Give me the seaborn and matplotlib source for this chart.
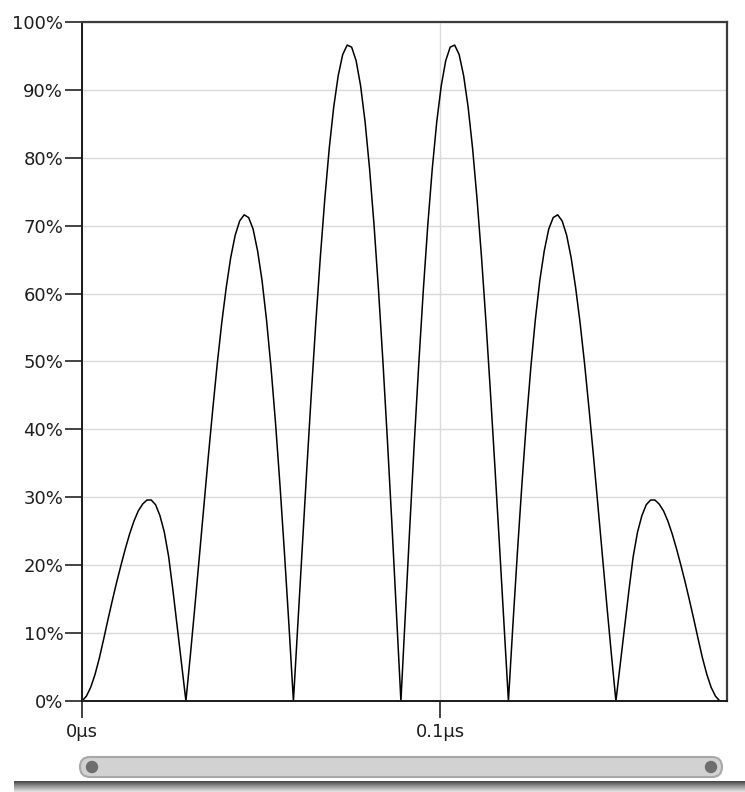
import numpy as np
import matplotlib
matplotlib.use('Agg')
import matplotlib.pyplot as plt
import seaborn as sns
from matplotlib.patches import FancyBboxPatch, Circle
from matplotlib.colors import LinearSegmentedColormap

# --- data (time in microseconds, amplitude in %) ---
time_us = [
    0.0, 0.00121, 0.00242, 0.00363, 0.00483, 0.00604, 0.00725, 0.00846, 0.00967,
    0.01088, 0.01208, 0.01329, 0.0145, 0.01571, 0.01692, 0.01813, 0.01933, 0.02054,
    0.02175, 0.02296, 0.02417, 0.02538, 0.02658, 0.02779, 0.029,
    0.03025, 0.0315, 0.03275, 0.034, 0.03525, 0.0365, 0.03775, 0.039, 0.04025, 0.0415,
    0.04275, 0.044, 0.04525, 0.0465, 0.04775, 0.049, 0.05025, 0.0515, 0.05275, 0.054,
    0.05525, 0.0565, 0.05775, 0.059,
    0.06025, 0.0615, 0.06275, 0.064, 0.06525, 0.0665, 0.06775, 0.069, 0.07025, 0.0715,
    0.07275, 0.074, 0.07525, 0.0765, 0.07775, 0.079, 0.08025, 0.0815, 0.08275, 0.084,
    0.08525, 0.0865, 0.08775, 0.089,
    0.09025, 0.0915, 0.09275, 0.094, 0.09525, 0.0965, 0.09775, 0.099, 0.10025, 0.1015,
    0.10275, 0.104, 0.10525, 0.1065, 0.10775, 0.109, 0.11025, 0.1115, 0.11275, 0.114,
    0.11525, 0.1165, 0.11775, 0.119,
    0.12025, 0.1215, 0.12275, 0.124, 0.12525, 0.1265, 0.12775, 0.129, 0.13025, 0.1315,
    0.13275, 0.134, 0.13525, 0.1365, 0.13775, 0.139, 0.14025, 0.1415, 0.14275, 0.144,
    0.14525, 0.1465, 0.14775, 0.149,
    0.15021, 0.15142, 0.15263, 0.15383, 0.15504, 0.15625, 0.15746, 0.15867, 0.15988,
    0.16108, 0.16229, 0.1635, 0.16471, 0.16592, 0.16713, 0.16833, 0.16954, 0.17075,
    0.17196, 0.17317, 0.17438, 0.17558, 0.17679, 0.178,
]
amplitude_pct = [
    0, 0.7, 2.0, 3.9, 6.3, 9.1, 12.0, 14.8, 17.5, 20.0, 22.4, 24.6, 26.5, 28.0, 29.0,
    29.6, 29.6, 28.9, 27.3, 24.9, 21.3, 16.3, 10.9, 5.4, 0,
    6.8, 13.9, 21.3, 28.7, 36.0, 43.0, 49.7, 55.7, 60.9, 65.3, 68.6, 70.7, 71.6, 71.2,
    69.5, 66.3, 61.9, 56.1, 49.1, 41.0, 31.8, 21.8, 11.2, 0,
    11.4, 23.0, 34.3, 45.3, 55.7, 65.3, 73.9, 81.4, 87.5, 92.1, 95.2, 96.6, 96.3, 94.3,
    90.6, 85.3, 78.4, 70.1, 60.5, 49.8, 38.2, 25.9, 13.0, 0,
    13.0, 25.9, 38.2, 49.8, 60.5, 70.1, 78.4, 85.3, 90.6, 94.3, 96.3, 96.6, 95.2, 92.1,
    87.5, 81.4, 73.9, 65.3, 55.7, 45.3, 34.3, 23.0, 11.4, 0,
    11.2, 21.8, 31.8, 41.0, 49.1, 56.1, 61.9, 66.3, 69.5, 71.2, 71.6, 70.7, 68.6, 65.3,
    60.9, 55.7, 49.7, 43.0, 36.0, 28.7, 21.3, 13.9, 6.8, 0,
    5.4, 10.9, 16.3, 21.3, 24.9, 27.3, 28.9, 29.6, 29.6, 29.0, 28.0, 26.5, 24.6, 22.4,
    20.0, 17.5, 14.8, 12.0, 9.1, 6.3, 3.9, 2.0, 0.7, 0,
]

y_ticks = [0, 10, 20, 30, 40, 50, 60, 70, 80, 90, 100]
y_tick_labels = ['0%', '10%', '20%', '30%', '40%', '50%', '60%', '70%', '80%', '90%', '100%']
x_ticks = [0.0, 0.1]
x_tick_labels = ['0µs', '0.1µs']

# --- style ---
sns.set_style('white')
plt.rcParams['font.family'] = ['DejaVu Sans']

W, H = 745, 792
fig = plt.figure(figsize=(W / 100, H / 100), dpi=100)
fig.patch.set_facecolor('white')

# background layer for the scrollbar and shadow (pixel coordinates)
deco = fig.add_axes([0, 0, 1, 1], zorder=0)
deco.set_axis_off()

ax = fig.add_axes([82 / W, (H - 701) / H, (727 - 82) / W, (701 - 22) / H], zorder=2)
ax.patch.set_facecolor('white')

sns.lineplot(x=time_us, y=amplitude_pct, ax=ax, color='black', linewidth=1.1,
             estimator=None, sort=False)

ax.set_xlim(0, 0.18)
ax.set_ylim(0, 100)
ax.set_yticks(y_ticks)
ax.set_yticklabels(y_tick_labels)
ax.set_xticks(x_ticks)
ax.set_xticklabels(x_tick_labels)
ax.tick_params(axis='both', which='major', bottom=True, left=True, direction='out',
               length=12, width=1.2, color='#222222', labelsize=13, labelcolor='#1e1e1e')
ax.tick_params(axis='y', pad=1.5)
ax.tick_params(axis='x', pad=4)
ax.grid(True, color='#dadada', linewidth=1.0)
ax.set_axisbelow(True)

for side in ['left', 'bottom']:
    ax.spines[side].set_color('#1a1a1a')
    ax.spines[side].set_linewidth(1.4)
for side in ['top', 'right']:
    ax.spines[side].set_color('#3c3c3c')
    ax.spines[side].set_linewidth(1.6)

# --- scrollbar under the chart ---
bar = FancyBboxPatch((80, 757), 642, 20, boxstyle='round,pad=0,rounding_size=10',
                     facecolor='#d2d2d2', edgecolor='#a8a8a8', linewidth=1.5)
deco.add_patch(bar)
deco.add_patch(Circle((92, 767), 5.5, color='#6e6e6e'))
deco.add_patch(Circle((711, 767), 5.5, color='#6e6e6e'))

# --- bottom shadow ---
shade = LinearSegmentedColormap.from_list('shade', ['#4a4a4a', '#9a9a9a', '#e0e0e0'])
grad = np.linspace(0, 1, 12).reshape(-1, 1)
deco.imshow(grad, extent=(14, W, H, 781), cmap=shade, aspect='auto')

deco.set_xlim(0, W)
deco.set_ylim(H, 0)

fig.savefig('out.png', dpi=100)
